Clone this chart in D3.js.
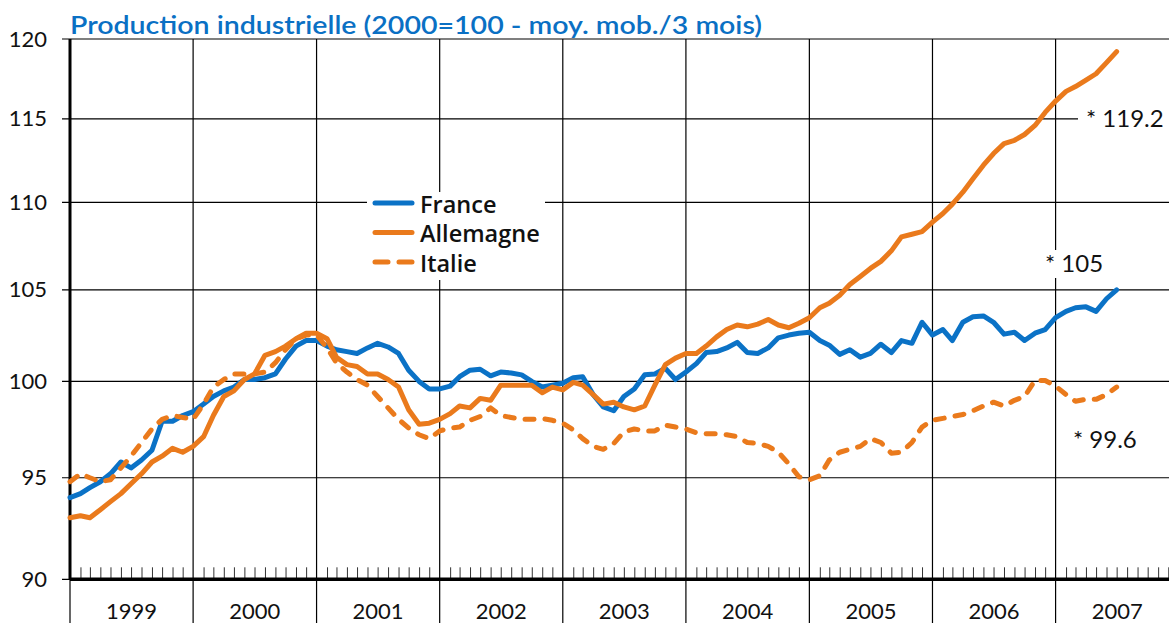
<!DOCTYPE html>
<html>
<head>
<meta charset="utf-8">
<script src="https://cdn.jsdelivr.net/npm/d3@7"></script>
<style>
  html, body { margin: 0; padding: 0; background: #fff; }
  svg { display: block; }
  text { font-family: Lato, "Open Sans", sans-serif; }
  text.legend { font-family: "Open Sans", sans-serif; }
</style>
</head>
<body>
<svg id="chart" width="1169" height="623"></svg>
<script>
// ---------- data ----------
const startYear = 1999;
const years = ["1999","2000","2001","2002","2003","2004","2005","2006","2007"];
const yTicks = [90, 95, 100, 105, 110, 115, 120];
const seriesNames = ["France", "Allemagne", "Italie"];

// monthly values, Jan 1999 .. Jul 2007
const france = [
  94.0, 94.2, 94.5, 94.8, 95.2, 95.8, 95.5, 95.9, 96.4, 97.9, 97.9, 98.2,
  98.4, 98.8, 99.2, 99.5, 99.7, 100.1, 100.1, 100.2, 100.4, 101.2, 101.9, 102.2,
  102.2, 101.9, 101.7, 101.6, 101.5, 101.8, 102.05, 101.85, 101.5, 100.6, 100.0, 99.6,
  99.6, 99.75, 100.25, 100.6, 100.65, 100.3, 100.5, 100.45, 100.35, 100.0, 99.7, 99.8,
  99.9, 100.2, 100.25, 99.3, 98.65, 98.45, 99.2, 99.6, 100.35, 100.4, 100.7, 100.1,
  100.5, 100.95, 101.55, 101.6, 101.8, 102.1, 101.55, 101.5, 101.8, 102.35, 102.5, 102.6,
  102.65, 102.2, 101.95, 101.45, 101.7, 101.3, 101.5, 102.0, 101.55, 102.2, 102.05, 103.2,
  102.5, 102.8, 102.2, 103.2, 103.5, 103.55, 103.2, 102.55, 102.65, 102.2, 102.6, 102.8,
  103.45, 103.8, 104.0, 104.05, 103.8, 104.5, 105.0
];
const allemagne = [
  93.0, 93.1, 93.0, 93.4, 93.8, 94.2, 94.7, 95.2, 95.8, 96.1, 96.5, 96.3,
  96.6, 97.1, 98.2, 99.2, 99.5, 100.1, 100.4, 101.4, 101.6, 101.9, 102.3, 102.6,
  102.6, 102.3, 101.3, 100.9, 100.8, 100.4, 100.4, 100.1, 99.7, 98.5, 97.75, 97.8,
  98.0, 98.3, 98.7, 98.6, 99.1, 99.0, 99.8, 99.8, 99.8, 99.8, 99.4, 99.7,
  99.55, 99.95, 99.8, 99.3, 98.8, 98.9, 98.65, 98.5, 98.7, 99.8, 100.9, 101.25,
  101.5, 101.5, 101.9, 102.4, 102.8, 103.05, 102.95, 103.1, 103.35, 103.05, 102.9, 103.15,
  103.45, 104.0, 104.25, 104.7, 105.3, 105.75, 106.2, 106.6, 107.2, 108.0, 108.15, 108.3,
  108.85, 109.35, 109.9, 110.6, 111.4, 112.2, 112.9, 113.5, 113.7, 114.05, 114.6, 115.4,
  116.1, 116.7, 117.0, 117.4, 117.8, 118.5, 119.2
];
const italie = [
  94.8, 95.2, 95.0, 94.8, 94.9, 95.5, 96.1, 96.8, 97.5, 98.0, 98.2, 98.1,
  98.0, 98.8, 99.7, 100.1, 100.4, 100.4, 100.4, 100.5, 101.0, 101.7, 102.3, 102.5,
  102.5, 101.8, 101.0, 100.5, 100.1, 99.8, 99.2, 98.6, 98.0, 97.55, 97.2, 97.0,
  97.4, 97.55, 97.6, 97.95, 98.15, 98.6, 98.2, 98.1, 98.0, 98.0, 98.05, 97.95,
  97.8, 97.45, 97.0, 96.6, 96.45, 96.75, 97.35, 97.5, 97.4, 97.4, 97.7, 97.6,
  97.5, 97.3, 97.25, 97.25, 97.2, 97.1, 96.8, 96.75, 96.6, 96.3, 95.7, 95.05,
  94.9, 95.1, 95.9, 96.3, 96.45, 96.6, 97.0, 96.8, 96.25, 96.3, 96.8, 97.6,
  97.95, 98.05, 98.15, 98.25, 98.45, 98.7, 98.9, 98.7, 99.0, 99.2, 100.05, 100.05,
  99.75, 99.3, 98.95, 99.05, 99.05, 99.3, 99.7
];
const lastLabels = ["* 105", "* 119.2", "* 99.6"];

// ---------- setup ----------
const W = 1169, H = 623;
const mLeft = 70, mTop = 39, mBottom = 579.3;
const yearW = 123.19;
const colors = { blue: "#0b72c6", orange: "#ea7a1c", title: "#0a70c4", ink: "#111" };

const svg = d3.select("#chart");

const x = d3.scaleTime()
  .domain([new Date(startYear, 0, 1), new Date(startYear + 9, 0, 1)])
  .range([mLeft, mLeft + 9 * yearW]);
const y = d3.scaleLog().domain([90, 120]).range([mBottom, mTop]);

const dateAt = i => new Date(startYear, i, 1);
const mk = arr => arr.map((v, i) => ({ d: dateAt(i), v }));

// ---------- grid ----------
const g = svg.append("g");
g.selectAll("line.h").data(yTicks).join("line")
  .attr("x1", mLeft - 8).attr("x2", W)
  .attr("y1", d => y(d)).attr("y2", d => y(d))
  .attr("stroke", "#000").attr("stroke-width", 1.2);

const yearStarts = years.map(yy => new Date(+yy, 0, 1));
g.selectAll("line.v").data(yearStarts).join("line")
  .attr("x1", d => x(d)).attr("x2", d => x(d))
  .attr("y1", mTop).attr("y2", H)
  .attr("stroke", "#000").attr("stroke-width", 1.2);

// month ticks (up from x-axis)
const monthAxis = d3.axisTop(x)
  .tickValues(d3.timeMonth.range(new Date(startYear, 0, 1), new Date(startYear + 9, 0, 1))
    .filter(d => d.getMonth() !== 0 && x(d) < W))
  .tickSize(12).tickFormat("");
const ma = svg.append("g").attr("transform", `translate(0,${mBottom})`).call(monthAxis);
ma.select(".domain").remove();
ma.selectAll(".tick line").attr("stroke", "#333").attr("stroke-width", 1);

// axes (thick)
svg.append("line").attr("x1", mLeft).attr("x2", W).attr("y1", mBottom).attr("y2", mBottom)
  .attr("stroke", "#000").attr("stroke-width", 3.5);
svg.append("line").attr("x1", mLeft).attr("x2", mLeft).attr("y1", mTop).attr("y2", mBottom)
  .attr("stroke", "#000").attr("stroke-width", 3);
const yAxis = d3.axisLeft(y).tickValues(yTicks).tickSize(0).tickPadding(23)
  .tickFormat(d3.format("d"));
const ya = svg.append("g").attr("transform", `translate(${mLeft},0)`).call(yAxis);
ya.select(".domain").remove();
ya.selectAll("text").attr("font-size", 22).attr("fill", colors.ink);

// year labels
svg.selectAll("text.year").data(years).join("text")
  .attr("class", "year")
  .attr("x", d => (x(new Date(+d, 0, 1)) + x(new Date(+d + 1, 0, 1))) / 2)
  .attr("y", 619)
  .attr("text-anchor", "middle")
  .attr("font-size", 22).attr("fill", colors.ink)
  .text(d => d);

// ---------- legend ----------
svg.append("rect").attr("x", 367).attr("y", 192).attr("width", 178).attr("height", 88)
  .attr("fill", "#fff");
const legend = [
  { name: seriesNames[0], color: colors.blue, dash: null, y: 203 },
  { name: seriesNames[1], color: colors.orange, dash: null, y: 232.5 },
  { name: seriesNames[2], color: colors.orange, dash: "13,11", y: 262 }
];
const lg = svg.append("g");
lg.selectAll("line").data(legend).join("line")
  .attr("x1", 375).attr("x2", 412).attr("y1", d => d.y).attr("y2", d => d.y)
  .attr("stroke", d => d.color).attr("stroke-width", 5).attr("stroke-linecap", "round")
  .attr("stroke-dasharray", d => d.dash);
lg.selectAll("text").data(legend).join("text")
  .attr("class", "legend")
  .attr("x", 420).attr("y", d => d.y + 9.5)
  .attr("font-size", 23.5).attr("font-weight", 600).attr("fill", colors.ink)
  .text(d => d.name);

// ---------- annotations backgrounds ----------
svg.append("rect").attr("x", 1078).attr("y", 104).attr("width", 91).attr("height", 28).attr("fill", "#fff");
svg.append("rect").attr("x", 1043).attr("y", 250).attr("width", 62).attr("height", 28).attr("fill", "#fff");

// ---------- lines ----------
const line = d3.line().x(d => x(d.d)).y(d => y(d.v));
const series = [
  { data: mk(france), color: colors.blue, dash: null },
  { data: mk(italie), color: colors.orange, dash: "9,11" },
  { data: mk(allemagne), color: colors.orange, dash: null }
];
svg.append("g").selectAll("path").data(series).join("path")
  .attr("d", d => line(d.data))
  .attr("fill", "none")
  .attr("stroke", d => d.color)
  .attr("stroke-width", 5)
  .attr("stroke-linejoin", "round")
  .attr("stroke-linecap", "round")
  .attr("stroke-dasharray", d => d.dash);

// ---------- annotations ----------
const ann = [
  { t: lastLabels[1], x: 1086, y: 127 },
  { t: lastLabels[0], x: 1045, y: 272 },
  { t: lastLabels[2], x: 1073, y: 448 }
];
svg.selectAll("text.ann").data(ann).join("text")
  .attr("class", "ann")
  .attr("x", d => d.x).attr("y", d => d.y)
  .attr("font-size", 24).attr("fill", colors.ink)
  .text(d => d.t);

// ---------- title ----------
svg.append("text")
  .attr("x", 70).attr("y", 34)
  .attr("font-size", 25).attr("font-weight", 600)
  .attr("fill", colors.title)
  .attr("textLength", 692).attr("lengthAdjust", "spacingAndGlyphs")
  .text("Production industrielle (2000=100 - moy. mob./3 mois)");
</script>
</body>
</html>
